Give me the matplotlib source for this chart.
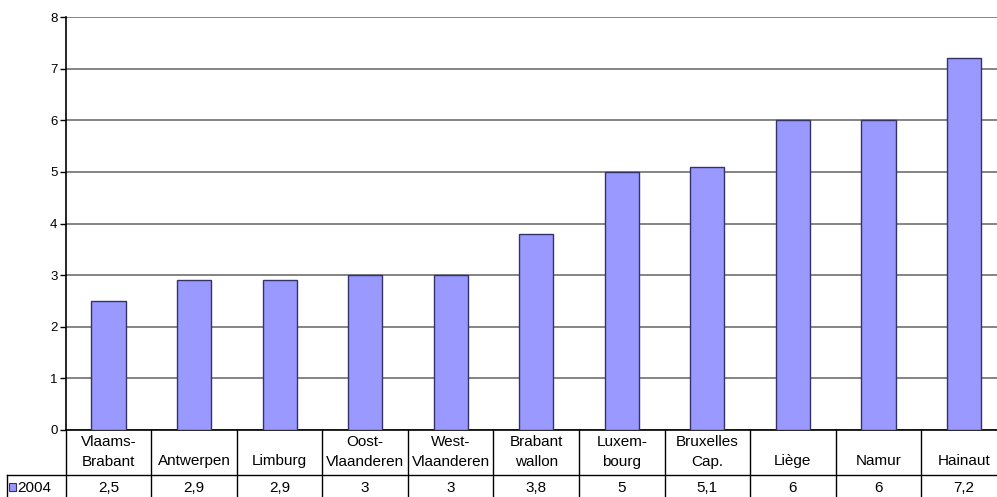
import numpy as np
import matplotlib.pyplot as plt

plt.rcParams['font.family'] = ['Liberation Sans', 'DejaVu Sans']

regions = ['Vlaams-\nBrabant', 'Antwerpen', 'Limburg', 'Oost-\nVlaanderen',
           'West-\nVlaanderen', 'Brabant\nwallon', 'Luxem-\nbourg',
           'Bruxelles\nCap.', 'Liège', 'Namur', 'Hainaut']
values_2004 = [2.5, 2.9, 2.9, 3, 3, 3.8, 5, 5.1, 6, 6, 7.2]
value_labels = ['2,5', '2,9', '2,9', '3', '3', '3,8', '5', '5,1', '6', '6', '7,2']
series_name = '2004'

bar_color = '#9999ff'
edge_color = '#333366'

fig = plt.figure(figsize=(9.97, 4.97), dpi=100)
# plot area runs a bit past the right edge of the picture, like the original
ax = fig.add_axes([65.75 / 997, 1 - 430 / 497, 941 / 997, 413 / 497])

x = np.arange(len(regions))
ax.bar(x, values_2004, width=0.4, color=bar_color, edgecolor=edge_color,
       linewidth=1, zorder=3)

ax.set_ylim(0, 8)
ax.set_xlim(-0.5, len(regions) - 0.5)
ax.set_yticks(range(0, 9))
ax.yaxis.grid(True, color='#6f6f6f', linewidth=1.2, zorder=0)
ax.tick_params(axis='y', length=4, width=1, labelsize=9.5, pad=2)
ax.set_xticks([])
for s in ['top', 'right']:
    ax.spines[s].set_visible(False)
ax.spines['left'].set_linewidth(1.2)
ax.spines['bottom'].set_linewidth(1.2)


# data table under the chart (pixel rows converted to axes fraction)
def yfrac(p):
    return (430 - p) / 413.0


tr = ax.get_xaxis_transform()
head_left = -0.5 - (65.75 - 7) / 85.5
row_line = yfrac(475)
bottom = yfrac(500)

ax.plot([head_left, len(regions) - 0.5], [row_line, row_line], color='black',
        lw=1, transform=tr, clip_on=False)
for i in range(len(regions) + 1):
    ax.plot([i - 0.5, i - 0.5], [0, bottom], color='black', lw=1,
            transform=tr, clip_on=False)
ax.plot([head_left, head_left], [row_line, bottom], color='black', lw=1,
        transform=tr, clip_on=False)

fs = 11
for i, name in enumerate(regions):
    lines = name.split('\n')
    if len(lines) == 1:
        ax.text(i, yfrac(461), lines[0], ha='center', va='center', fontsize=fs,
                transform=tr, clip_on=False)
    else:
        ax.text(i, yfrac(442), lines[0], ha='center', va='center', fontsize=fs,
                transform=tr, clip_on=False)
        ax.text(i, yfrac(462), lines[1], ha='center', va='center', fontsize=fs,
                transform=tr, clip_on=False)
    ax.text(i, yfrac(488), value_labels[i], ha='center', va='center',
            fontsize=fs, transform=tr, clip_on=False)

# legend key in the header cell
fig.patches.append(plt.Rectangle((9 / 997, 1 - 491 / 497), 7 / 997, 8 / 497,
                                 transform=fig.transFigure, facecolor=bar_color,
                                 edgecolor=edge_color, lw=0.8))
fig.text(17 / 997, 1 - 488 / 497, series_name, ha='left', va='center',
         fontsize=fs)

fig.savefig('out.png', dpi=100)
